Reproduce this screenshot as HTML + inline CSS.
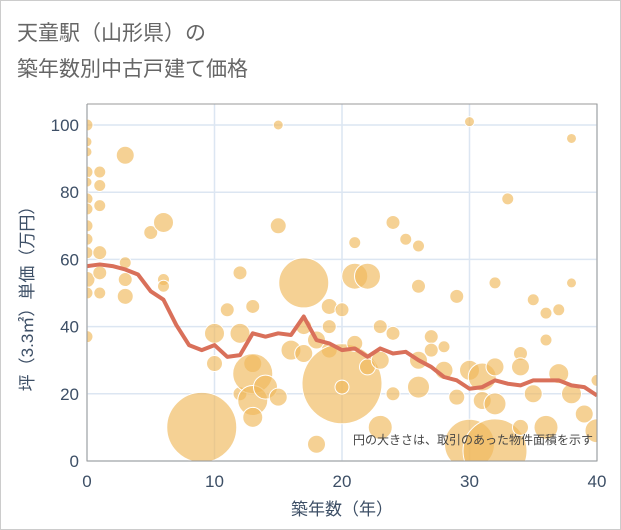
<!DOCTYPE html>
<html><head><meta charset="utf-8"><style>
body{margin:0;background:#fff;}
#wrap{position:relative;width:619px;height:528px;border:1px solid #ccc;background:#fff;font-family:"Liberation Sans","Noto Sans CJK JP",sans-serif;}
.title{position:absolute;left:16px;font-size:21px;color:#666;}
</style></head><body>
<div id="wrap">
<div class="title" style="top:16px">天童駅（山形県）の</div>
<div class="title" style="top:52px">築年数別中古戸建て価格</div>
<svg id="svg" width="619" height="528" style="position:absolute;left:0;top:0"></svg>
</div>
<script>
const xTicks=[0,10,20,30,40];
const yTicks=[0,20,40,60,80,100];
const trendYears=[0,1,2,3,4,5,6,7,8,9,10,11,12,13,14,15,16,17,18,19,20,21,22,23,24,25,26,27,28,29,30,31,32,33,34,35,36,37,38,39,40];
const trendValues=[58,58.5,58,57,55.5,50.5,48,40.5,34.5,33,34.5,31,31.5,38,37,38,37.5,43,36,35,33,33.5,31,33.5,32,32.5,30,28,25,24,21.5,22,24,23,22.5,24,24,24,22.5,22,19.5];
const bubbleX=[0,0,0,0,0,0,0,0,0,0,0,0,0,1,1,1,1,1,1,3,3,3,3,5,6,6,6,9,10,10,11,12,12,12,13,13,13,13,13,14,15,15,15,16,17,17,17,18,18,19,19,19,20,20,20,21,21,21,22,22,23,23,23,24,24,24,25,26,26,26,26,27,27,28,28,29,29,30,30,30,31,31,32,32,32,33,32,34,34,34,35,35,36,36,36,37,37,38,38,38,39,40,40];
const bubbleY=[100,95,92,86,83,78,75,70,66,62,54,50,37,86,82,76,62,56,50,91,59,54,49,68,71,54,52,10,38,29,45,56,38,20,46,29,26,18,13,22,100,70,19,33,53,40,32,36,5,46,40,33,23,45,22,65,55,35,55,28,40,30,10,71,38,20,66,64,52,30,22,37,33,34,27,49,19,101,27,5,25,18,53,28,17,78,3,32,28,10,48,20,44,36,10,45,26,96,53,20,14,24,9];
const bubbleR=[6,5,5,6,5,6,6,6,6,6,8,6,6,6,6,6,7,7,6,9,6,7,8,7,10,6,6,35,10,8,7,7,10,7,7,9,20,15,10,12,5,8,9,10,25,8,9,9,9,8,7,8,40,7,7,6,13,8,13,8,7,9,12,7,7,7,6,6,7,9,11,7,7,6,9,7,8,5,10,25,14,9,6,9,11,6,32,7,9,8,6,9,6,6,12,6,10,5,5,10,9,6,12];
const svg=document.getElementById('svg');const NS='http://www.w3.org/2000/svg';
const L=86,R=596,T=103,B=460;
const sx=v=>L+(R-L)*v/40, sy=v=>B-(B-124)*v/100;
function mk(t,a,p){const e=document.createElementNS(NS,t);for(const k in a)e.setAttribute(k,a[k]);(p||svg).appendChild(e);return e;}
const clip=mk('clipPath',{id:'cp'});mk('rect',{x:L,y:T,width:R-L,height:B-T},clip);
yTicks.forEach(v=>{const l=mk('line',{x1:L,x2:R,y1:sy(v),y2:sy(v),stroke:'#dce6f2','stroke-width':1.5});


const t=mk('text',{x:L-8,y:sy(v)+6,'text-anchor':'end','font-size':17,fill:'#3d4f66'});t.textContent=v;

});
xTicks.forEach(v=>{const l=mk('line',{x1:sx(v),x2:sx(v),y1:T,y2:B,stroke:'#dce6f2','stroke-width':1.5});


const t=mk('text',{x:sx(v),y:B+26,'text-anchor':'middle','font-size':17,fill:'#3d4f66'});t.textContent=v;

});
const bg=mk('g',{'clip-path':'url(#cp)'});


bubbleX.forEach((x,i)=>{const c=mk('circle',{cx:sx(x),cy:sy(bubbleY[i]),r:bubbleR[i],fill:'#f0b95a','fill-opacity':0.65,stroke:'#fff','stroke-width':1},bg);

});
const p=mk('polyline',{points:trendYears.map((x,i)=>sx(x)+','+sy(trendValues[i])).join(' '),fill:'none',stroke:'#d9705a','stroke-width':4,'stroke-linejoin':'round','clip-path':'url(#cp)'});


const ax=mk('path',{d:`M${L} ${T}V${B}H${R}V${T}H${L}`,fill:'none',stroke:'#999','stroke-width':1});


const note=mk('text',{x:R-4,y:443,'text-anchor':'end','font-size':12,fill:'#444'});note.textContent='円の大きさは、取引のあった物件面積を示す';


const xt=mk('text',{x:(L+R)/2,y:514,'text-anchor':'middle','font-size':17,fill:'#3d4f66'});xt.textContent='築年数（年）';


const yt=mk('text',{x:0,y:0,'text-anchor':'middle','font-size':17,fill:'#3d4f66',transform:`translate(32,${(T+B)/2+12}) rotate(-90)`});yt.textContent='坪（3.3㎡）単価（万円）';


</script>
</body></html>
